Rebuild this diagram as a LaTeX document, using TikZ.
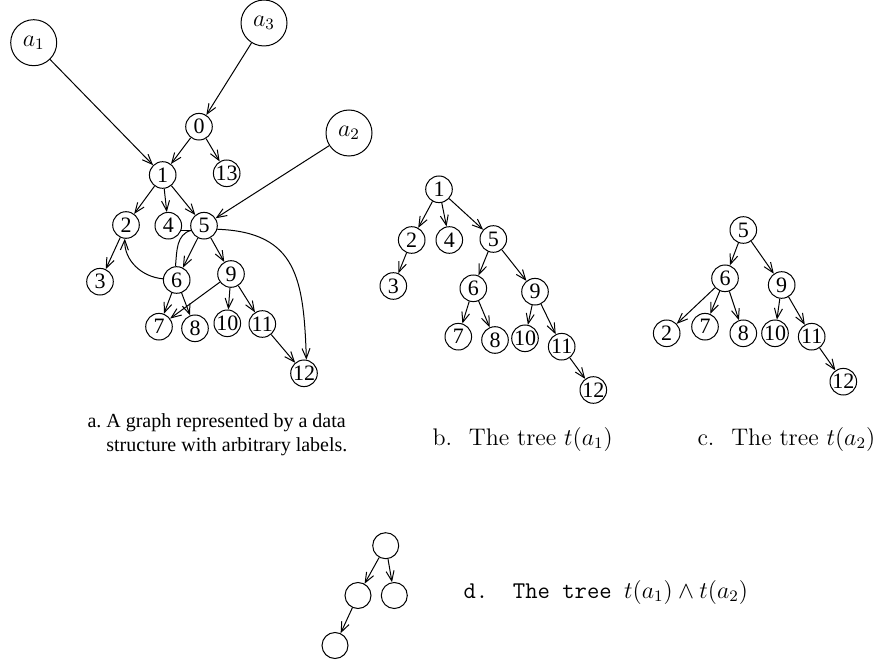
\documentclass[tikz,border=0pt]{standalone}
\usepackage{fontspec}
\newfontfamily\timesfont{Liberation Serif}
\usetikzlibrary{arrows.meta}

\begin{document}
\begin{tikzpicture}[
  x=0.5pt, y=-0.5pt, line width=0.5pt,
  vertex/.style={draw, circle, inner sep=0pt, minimum size=13.3pt, font=\timesfont\fontsize{11}{11}\selectfont},
  anchorv/.style={draw, circle, inner sep=0pt, minimum size=23pt, font=\large},
  blank/.style={draw, circle, inner sep=0pt, minimum size=13pt},
  link/.style={-{Straight Barb[length=5pt,width=4pt]}},
  caption/.style={inner sep=0pt, font=\large}
]
\useasboundingbox (0,0) rectangle (883,663);

% a. the graph
\node[anchorv] (a1) at (33.7,42.7) {$a_1$};
\node[anchorv] (a3) at (264,23) {$a_3$};
\node[anchorv] (a2) at (349,133) {$a_2$};
\node[vertex] (n0) at (199,126.7) {0};
\node[vertex] (n1) at (162.7,175) {1};
\node[vertex] (n13) at (226.7,173.3) {13};
\node[vertex] (n2) at (126,225) {2};
\node[vertex] (n4) at (168.3,225.7) {4};
\node[vertex] (n5) at (204,225.7) {5};
\node[vertex] (n3) at (100,281.7) {3};
\node[vertex] (n6) at (176.7,280) {6};
\node[vertex] (n9) at (231,274) {9};
\node[vertex] (n7) at (159,326.7) {7};
\node[vertex] (n8) at (195,328.3) {8};
\node[vertex] (n10) at (227.3,323.3) {10};
\node[vertex] (n11) at (262.3,324) {11};
\node[vertex] (n12) at (304,373.3) {12};

\draw[link] (a1) -- (n1);
\draw[link] (a3) -- (n0);
\draw[link] (a2) -- (n5);
\draw[link] (n0) -- (n1);
\draw[link] (n0) -- (n13);
\draw[link] (n1) -- (n2);
\draw[link] (n1) -- (n4);
\draw[link] (n1) -- (n5);
\draw[link] (n2) -- (n3);
\draw (n4.-20) -- (n5.200);
\draw (n6.95) to[out=85,in=195] (n5.200);
\draw[link] (n6.175) to[out=175,in=268] (n2.265);
\draw[link] (n5) -- (n6);
\draw[link] (n5) -- (n9);
\draw[link] (n5.-15) to[out=-2,in=92,looseness=1.3] (n12.80);
\draw[link] (n6) -- (n7);
\draw[link] (n6) -- (n8);
\draw[link] (n9) -- (n7);
\draw[link] (n9) -- (n10);
\draw[link] (n9) -- (n11);
\draw[link] (n11) -- (n12);

\node[anchor=north west, inner sep=0pt, align=left, font=\timesfont] (capa) at (87,413)
  {a.\ A graph represented by a data\\\phantom{a.\ }structure with arbitrary labels.};

% b. the tree t(a1)
\node[vertex] (b1) at (439,189.3) {1};
\node[vertex] (b2) at (411.7,240) {2};
\node[vertex] (b4) at (449.3,240) {4};
\node[vertex] (b5) at (493.3,239) {5};
\node[vertex] (b3) at (393.3,286) {3};
\node[vertex] (b6) at (473.3,288.3) {6};
\node[vertex] (b9) at (535,291.7) {9};
\node[vertex] (b7) at (458.3,336.7) {7};
\node[vertex] (b8) at (495,340) {8};
\node[vertex] (b10) at (525,338.3) {10};
\node[vertex] (b11) at (561.7,346.7) {11};
\node[vertex] (b12) at (593.3,390) {12};

\draw[link] (b1) -- (b2);
\draw[link] (b1) -- (b4);
\draw[link] (b1) -- (b5);
\draw[link] (b2) -- (b3);
\draw[link] (b5) -- (b6);
\draw[link] (b5) -- (b9);
\draw[link] (b6) -- (b7);
\draw[link] (b6) -- (b8);
\draw[link] (b9) -- (b10);
\draw[link] (b9) -- (b11);
\draw[link] (b11) -- (b12);

\node[caption, anchor=base west] (capb) at (432,445) {b.\hspace{0.7em}The tree $t(a_1)$};

% c. the tree t(a2)
\node[vertex] (c5) at (743.3,230) {5};
\node[vertex] (c6) at (725,278.3) {6};
\node[vertex] (c9) at (781.7,285) {9};
\node[vertex] (c2) at (666.7,333.3) {2};
\node[vertex] (c7) at (705,326.7) {7};
\node[vertex] (c8) at (743.3,333.3) {8};
\node[vertex] (c10) at (775,333.3) {10};
\node[vertex] (c11) at (811.7,336.7) {11};
\node[vertex] (c12) at (843.3,381.7) {12};

\draw[link] (c5) -- (c6);
\draw[link] (c5) -- (c9);
\draw[link] (c6) -- (c2);
\draw[link] (c6) -- (c7);
\draw[link] (c6) -- (c8);
\draw[link] (c9) -- (c10);
\draw[link] (c9) -- (c11);
\draw[link] (c11) -- (c12);

\node[caption, anchor=base west] (capc) at (697,445) {c.\hspace{0.7em}The tree $t(a_2)$};

% d. the meet of both trees
\node[blank] (dr0) at (385.7,545.7) {};
\node[blank] (dl1) at (358,595.5) {};
\node[blank] (dr1) at (394.3,595.5) {};
\node[blank] (dl2) at (335,645.5) {};

\draw[link] (dr0) -- (dl1);
\draw[link] (dr0) -- (dr1);
\draw[link] (dl1) -- (dl2);

\node[caption, anchor=base west] (capd) at (463,598) {\texttt{d.~~The tree~}$t(a_1)\wedge t(a_2)$};
\end{tikzpicture}
\end{document}
